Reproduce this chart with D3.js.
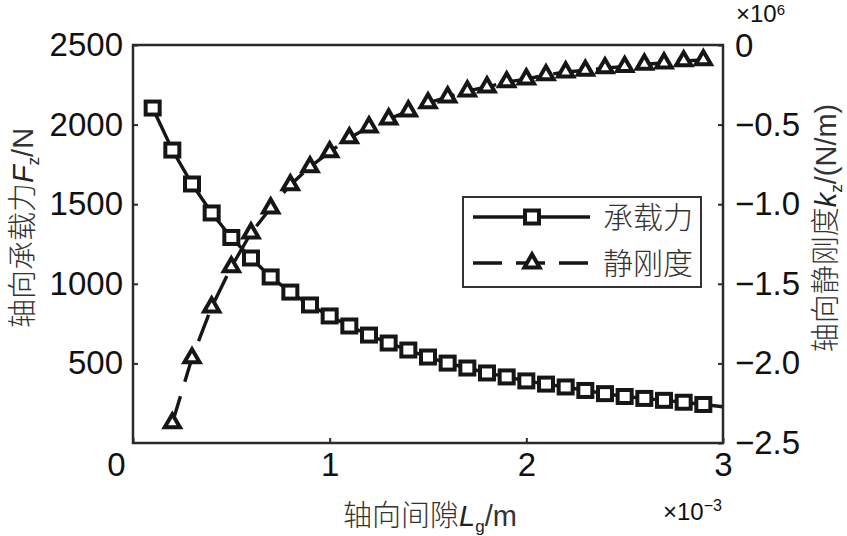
<!DOCTYPE html>
<html><head><meta charset="utf-8">
<script src="https://cdn.jsdelivr.net/npm/d3@7"></script>
<style>
html,body{margin:0;padding:0;background:#fff;}
svg{display:block;}
.num{font-family:"Liberation Sans","Arial",sans-serif;font-size:33px;fill:#111;}
.exp{font-family:"Liberation Sans","Arial",sans-serif;font-size:24px;fill:#111;}
.cjk{font-family:"Noto Sans CJK SC",sans-serif;font-weight:300;fill:#333;}
</style></head>
<body>
<script>
// x: axial gap, unit 1e-3 m
const gapX = [0.1,0.2,0.3,0.4,0.5,0.6,0.7,0.8,0.9,1.0,1.1,1.2,1.3,1.4,1.5,1.6,1.7,1.8,1.9,2.0,2.1,2.2,2.3,2.4,2.5,2.6,2.7,2.8,2.9,3.0];
// bearing force Fz (N); last value only continues the line to the edge
const forceF = [2104,1840,1627,1445,1291,1162,1043,948,867,798,735,678,628,584,540,502,471,440,415,390,370,352,330,310,292,280,268,256,242,228];
// static stiffness kz (x1e6 N/m), starting at gap 0.2
const gapK = [0.2,0.3,0.4,0.5,0.6,0.7,0.8,0.9,1.0,1.1,1.2,1.3,1.4,1.5,1.6,1.7,1.8,1.9,2.0,2.1,2.2,2.3,2.4,2.5,2.6,2.7,2.8,2.9,3.0];
const stiffK = [-2.374,-1.966,-1.646,-1.394,-1.181,-1.024,-0.879,-0.766,-0.672,-0.584,-0.515,-0.465,-0.415,-0.364,-0.327,-0.289,-0.264,-0.232,-0.214,-0.188,-0.170,-0.160,-0.144,-0.136,-0.121,-0.113,-0.100,-0.094,-0.088];
const xTicks = [0,1,2,3];
const yLeftTicks = [500,1000,1500,2000,2500];
const yRightTicks = [0,-0.5,-1.0,-1.5,-2.0,-2.5];
const legendNames = ["承载力","静刚度"];

const W=847,H=536;
const L=133,R=723,T=45,B=443;
const svg=d3.select("body").append("svg").attr("width",W).attr("height",H);

const x=d3.scaleLinear().domain([0,3]).range([L,R]);
const yL=d3.scaleLinear().domain([0,2500]).range([B,T]);
const yR=d3.scaleLinear().domain([-2.5,0]).range([B,T]);

const ink="#161616";
const lw=3.4, mw=4;

const forceData=gapX.map((g,i)=>({x:g,y:forceF[i]}));
const stiffData=gapK.map((g,i)=>({x:g,y:stiffK[i]}));

svg.append("path").datum(stiffData)
  .attr("fill","none").attr("stroke",ink).attr("stroke-width",lw)
  .attr("stroke-dasharray","28,15")
  .attr("d",d3.line().x(d=>x(d.x)).y(d=>yR(d.y)));
svg.append("path").datum(forceData)
  .attr("fill","none").attr("stroke",ink).attr("stroke-width",lw)
  .attr("d",d3.line().x(d=>x(d.x)).y(d=>yL(d.y)));

// markers
const sqW=14,sqH=13;
svg.append("g").selectAll("rect").data(forceData.slice(0,-1)).join("rect")
  .attr("x",d=>x(d.x)-sqW/2).attr("y",d=>yL(d.y)-sqH/2)
  .attr("width",sqW).attr("height",sqH)
  .attr("fill","#fff").attr("stroke",ink).attr("stroke-width",mw);
const tri=d3.symbol().type(d3.symbolTriangle).size(100);
svg.append("g").selectAll("path").data(stiffData.slice(0,-1)).join("path")
  .attr("transform",d=>`translate(${x(d.x)},${yR(d.y)})`)
  .attr("d",tri).attr("fill","#fff").attr("stroke",ink).attr("stroke-width",mw)
  .attr("stroke-linejoin","miter");

// frame
svg.append("rect").attr("x",L).attr("y",T).attr("width",R-L).attr("height",B-T)
  .attr("fill","none").attr("stroke","#2a2a2a").attr("stroke-width",2.5);

// axes
const ax=svg.append("g").attr("transform",`translate(0,${B})`)
  .call(d3.axisBottom(x).tickValues(xTicks).tickFormat(d3.format("d")).tickSizeInner(-5).tickSizeOuter(0).tickPadding(10));
const ayl=svg.append("g").attr("transform",`translate(${L},0)`)
  .call(d3.axisLeft(yL).tickValues(yLeftTicks).tickFormat(d3.format("d")).tickSizeInner(-5).tickSizeOuter(0).tickPadding(10));
const ayr=svg.append("g").attr("transform",`translate(${R},0)`)
  .call(d3.axisRight(yR).tickValues(yRightTicks)
    .tickFormat(d=>d===0?"0":"\u2212"+Math.abs(d).toFixed(1))
    .tickSizeInner(-5).tickSizeOuter(0).tickPadding(12));
[ax,ayl,ayr].forEach(g=>{
  g.select(".domain").remove();
  g.selectAll(".tick line").attr("stroke","#2a2a2a").attr("stroke-width",2);
  g.selectAll(".tick text").attr("class","num").attr("font-family",null).attr("font-size",null).attr("fill",null);
});
ax.selectAll(".tick text").filter(d=>d===0).attr("dx",-17);
ayr.selectAll(".tick text").filter(d=>d===0).attr("dy","0.36em");

// exponent labels
const sup=svg.append("text").attr("class","exp").attr("x",736).attr("y",22);
sup.append("tspan").text("×10");
sup.append("tspan").attr("font-size","15px").attr("dy",-7).text("6");
const sub=svg.append("text").attr("class","exp").attr("x",663).attr("y",520);
sub.append("tspan").text("×10");
sub.append("tspan").attr("font-size","16px").attr("dy",-9).text("\u22123");

// axis titles
function title(t,cjk,lat,subs,rest){
  t.append("tspan").attr("class","cjk").text(cjk);
  t.append("tspan").attr("font-family","Liberation Sans, Arial, sans-serif").attr("font-style","italic").attr("fill","#222").text(lat);
  t.append("tspan").attr("font-family","Liberation Sans, Arial, sans-serif").attr("font-size","17px").attr("dy",6).attr("fill","#222").text(subs);
  t.append("tspan").attr("font-family","Liberation Sans, Arial, sans-serif").attr("dy",-6).attr("fill","#333").text(rest);
}
const tb=svg.append("text").attr("x",430).attr("y",526).attr("text-anchor","middle").attr("font-size","29px");
title(tb,"轴向间隙","L","g","/m");
const tl=svg.append("text").attr("transform","translate(33,228) rotate(-90)").attr("text-anchor","middle").attr("font-size","29px");
title(tl,"轴向承载力","F","z","/N");
const tr=svg.append("text").attr("transform","translate(836,228) rotate(-90)").attr("text-anchor","middle").attr("font-size","29px");
title(tr,"轴向静刚度","k","z","/(N/m)");

// legend
const lg=svg.append("g");
lg.append("rect").attr("x",463).attr("y",197).attr("width",238).attr("height",90)
  .attr("fill","#fff").attr("stroke","#333").attr("stroke-width",2);
const rows=[217,263];
lg.append("line").attr("x1",473).attr("x2",590).attr("y1",rows[0]).attr("y2",rows[0]).attr("stroke",ink).attr("stroke-width",lw);
lg.append("rect").attr("x",532-sqW/2).attr("y",rows[0]-sqH/2).attr("width",sqW).attr("height",sqH)
  .attr("fill","#fff").attr("stroke",ink).attr("stroke-width",mw);
lg.append("line").attr("x1",473).attr("x2",590).attr("y1",rows[1]).attr("y2",rows[1]).attr("stroke",ink).attr("stroke-width",lw).attr("stroke-dasharray","29,14");
lg.append("path").attr("transform",`translate(532,${rows[1]})`).attr("d",tri)
  .attr("fill","#fff").attr("stroke",ink).attr("stroke-width",mw);
legendNames.forEach((n,i)=>{
  lg.append("text").attr("class","cjk").attr("x",603).attr("y",rows[i]).attr("dy","0.36em")
    .attr("font-size","30px").text(n);
});
</script>
</body></html>
